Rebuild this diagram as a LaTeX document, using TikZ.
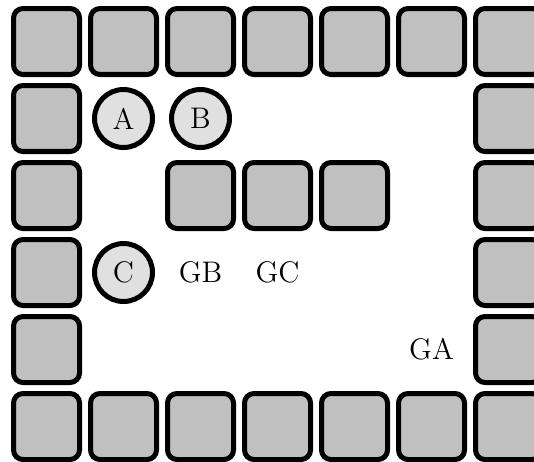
\documentclass[tikz,border=0pt]{standalone}
\begin{document}
\begin{tikzpicture}[x=1cm,y=1cm,
  wall/.style={draw=black, line width=1.85pt, fill=wallgray, rounded corners=3.5pt, minimum size=0.857cm, inner sep=0pt},
  agent/.style={circle, draw=black, line width=1.85pt, fill=agentgray, minimum size=0.753cm, inner sep=0pt, font=\fontsize{11}{13}\selectfont},
  goal/.style={inner sep=0pt, font=\fontsize{11}{13}\selectfont}]
\definecolor{wallgray}{HTML}{C0C0C0}
\definecolor{agentgray}{HTML}{E0E0E0}
\useasboundingbox (-0.604,-5.448) rectangle (6.331,0.539);
% top and bottom rows
\foreach \c in {0,...,6} {
  \node[wall] (t\c) at (\c,0) {};
  \node[wall] (b\c) at (\c,-5) {};
}
% side walls
\foreach \r in {1,...,4} {
  \node[wall] (l\r) at (0,-\r) {};
  \node[wall] (r\r) at (6,-\r) {};
}
% inner walls
\foreach \c in {2,3,4} {
  \node[wall] (m\c) at (\c,-2) {};
}
% agents
\node[agent] (A) at (1,-1) {A};
\node[agent] (B) at (2,-1) {B};
\node[agent] (C) at (1,-3) {C};
% goals
\node[goal] (GB) at (2,-3) {GB};
\node[goal] (GC) at (3,-3) {GC};
\node[goal] (GA) at (5,-4) {GA};
\end{tikzpicture}
\end{document}
